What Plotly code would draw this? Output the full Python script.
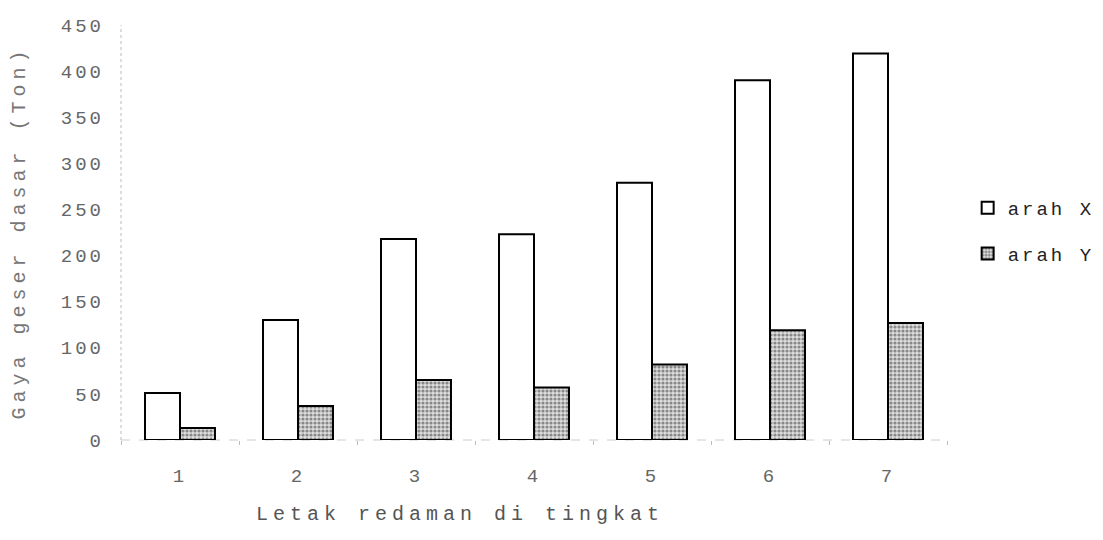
import plotly.graph_objects as go

categories = ["1", "2", "3", "4", "5", "6", "7"]
arah_x = [51, 130, 218, 223, 279, 390, 419]
arah_y = [13, 37, 65, 57, 82, 119, 127]
y_ticks = [0, 50, 100, 150, 200, 250, 300, 350, 400, 450]

FONT = "Liberation Mono, Courier New, monospace"

def spaced(t, ls):
    return f'<span style="letter-spacing:{ls}px">{t}</span>'

fig = go.Figure()
fig.add_trace(go.Bar(
    x=categories, y=arah_x, name=spaced("arah X", 3),
    marker=dict(color="white", line=dict(color="black", width=2)),
    legendgroup="a",
))
fig.add_trace(go.Bar(
    x=categories, y=arah_y, name=spaced("arah Y", 3),
    marker=dict(color="#d0d0d0", line=dict(color="black", width=2),
                pattern=dict(shape=".", fgcolor="#333333", bgcolor="#dddddd",
                             size=4, solidity=0.5)),
    legendgroup="b",
))

# page body has an 8px margin, so the figure is drawn 8px smaller
fig.update_layout(
    width=1095, height=532,
    margin=dict(l=113, r=156, t=17, b=100, autoexpand=False),
    paper_bgcolor="white", plot_bgcolor="white",
    barmode="group", bargap=0.407, bargroupgap=0,
    font=dict(family=FONT, size=19, color="#666666"),
    showlegend=True,
    legend=dict(x=1.025, y=0.605, xanchor="left", yanchor="top",
                font=dict(family=FONT, size=19, color="#222222"),
                tracegroupgap=18, itemwidth=30, bgcolor="rgba(0,0,0,0)"),
    xaxis=dict(
        range=[-0.5, 6.5], showgrid=False, zeroline=False, showline=False,
        automargin=False,
        tickmode="array", tickvals=categories,
        ticktext=[spaced(c, 3) for c in categories],
        ticks="outside", tickson="boundaries", ticklen=4, tickcolor="#bbbbbb",
        ticklabelstandoff=22,
        tickfont=dict(family=FONT, size=19, color="#666666"),
    ),
    yaxis=dict(
        range=[0, 450], showgrid=False, zeroline=False, showline=False,
        automargin=False,
        tickmode="array", tickvals=y_ticks,
        ticktext=[spaced(str(v), 3) for v in y_ticks],
        ticks="", ticklabelstandoff=16,
        tickfont=dict(family=FONT, size=19, color="#666666"),
        title=dict(text=spaced("Gaya geser dasar (Ton)", 5),
                   font=dict(family=FONT, size=20, color="#777777"), standoff=36),
    ),
    annotations=[dict(
        text=spaced("Letak redaman di tingkat", 5), xref="paper", yref="paper",
        x=0.41, y=-0.18, xanchor="center", yanchor="middle", showarrow=False,
        font=dict(family=FONT, size=20, color="#555555"),
    )],
    shapes=[
        dict(type="line", xref="paper", yref="paper", x0=0, x1=0, y0=0, y1=1,
             line=dict(color="#bbbbbb", width=1, dash="dot"), layer="below"),
        dict(type="line", xref="paper", yref="paper", x0=0, x1=1, y0=0, y1=0,
             line=dict(color="#cccccc", width=1, dash="dash"), layer="below"),
    ],
)

fig.write_html("out.html")
